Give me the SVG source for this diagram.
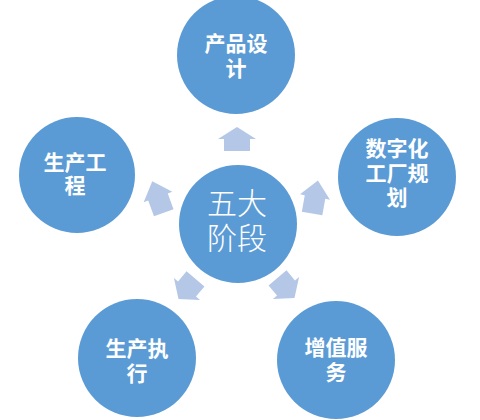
<svg xmlns="http://www.w3.org/2000/svg" width="480" height="420" viewBox="0 0 480 420">
  <style>
    .node { fill: #5b9bd5; }
    .lbl { fill: #ffffff; font-family: "Liberation Sans", "Noto Sans CJK SC", sans-serif; font-size: 21px; font-weight: 700; text-anchor: middle; }
    .hub { fill: #ffffff; font-family: "Liberation Sans", "Noto Sans CJK SC", sans-serif; font-size: 30px; font-weight: 300; text-anchor: middle; }
    .arrow { fill: #b4c7e7; }
  </style>
  <defs>
    <path id="arr" d="M0,-12 L19,0 L13,0 L13,12 L-13,12 L-13,0 L-19,0 Z"/>
  </defs>
  <rect x="0" y="0" width="480" height="420" fill="#ffffff"/>

  <g id="connectors">
    <use href="#arr" class="arrow" transform="translate(237,139)"/>
    <use href="#arr" class="arrow" transform="translate(158,197) rotate(-20) scale(0.8,1.4)"/>
    <use href="#arr" class="arrow" transform="translate(315,197) rotate(10) scale(0.8,1.4)"/>
    <use href="#arr" class="arrow" transform="translate(187,289) rotate(-140) scale(0.9,1.1)"/>
    <use href="#arr" class="arrow" transform="translate(286,288) rotate(140) scale(0.9,1.1)"/>
  </g>

  <g id="node-center">
    <circle class="node" cx="238" cy="224" r="59"/>
    <text class="hub"><tspan x="237" y="214">五大</tspan><tspan x="237" y="249">阶段</tspan></text>
  </g>

  <g id="node-design">
    <circle class="node" cx="236" cy="55" r="59"/>
    <text class="lbl"><tspan x="236" y="51">产品设</tspan><tspan x="236" y="76">计</tspan></text>
  </g>

  <g id="node-engineering">
    <circle class="node" cx="77" cy="175" r="58"/>
    <text class="lbl"><tspan x="75" y="170">生产工</tspan><tspan x="75" y="193">程</tspan></text>
  </g>

  <g id="node-factory">
    <circle class="node" cx="397" cy="177" r="59"/>
    <text class="lbl"><tspan x="397" y="156">数字化</tspan><tspan x="397" y="181">工厂规</tspan><tspan x="397" y="205">划</tspan></text>
  </g>

  <g id="node-execution">
    <circle class="node" cx="137" cy="358" r="59"/>
    <text class="lbl"><tspan x="137" y="356">生产执</tspan><tspan x="137" y="381">行</tspan></text>
  </g>

  <g id="node-service">
    <circle class="node" cx="336" cy="360" r="59"/>
    <text class="lbl"><tspan x="336" y="355">增值服</tspan><tspan x="336" y="380">务</tspan></text>
  </g>
</svg>
